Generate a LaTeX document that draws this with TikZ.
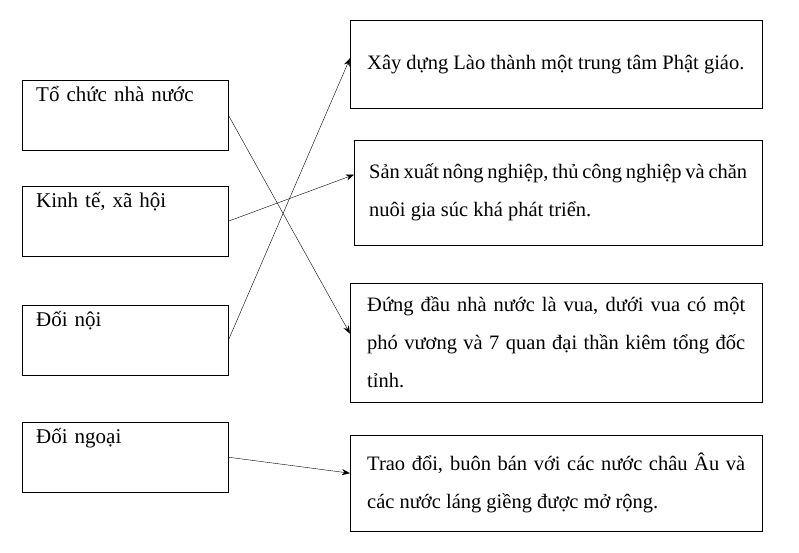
\documentclass[tikz,border=0pt]{standalone}
\usepackage{fontspec}
\setmainfont{Liberation Serif}
\usetikzlibrary{positioning,arrows.meta}

\begin{document}
\begin{tikzpicture}[x=1pt,y=-1pt,
  lbox/.style={draw,anchor=north west,minimum width=206pt,text width=178pt,inner xsep=14pt,inner ysep=5pt,text height=16pt,text depth=44pt,font=\fontsize{21}{24}\selectfont},
  rbox/.style={draw,anchor=north west,minimum width=412pt,text width=378pt,inner xsep=17pt,inner ysep=6pt,align=justify,font=\fontsize{20.5}{38}\selectfont},
  link/.style={-{Stealth[length=8pt,width=6pt]},thin}]
  \useasboundingbox (0,0) rectangle (799,553);
  \node[lbox] (l1) at (22,80) {Tổ chức nhà nước};
  \node[lbox] (l2) at (22,186) {Kinh tế, xã hội};
  \node[lbox] (l3) at (22,305) {Đối nội};
  \node[lbox] (l4) at (22,422) {Đối ngoại};

  \node[rbox,minimum height=88pt] (r1) at (350,20) {Xây dựng Lào thành một trung tâm Phật giáo.};
  \node[rbox,minimum height=105pt,minimum width=408pt,text width=378pt,inner xsep=15pt] (r2) at (354,140) {Sản xuất nông nghiệp, thủ công nghiệp và chăn nuôi gia súc khá phát triển.};
  \node[rbox,minimum height=119pt] (r3) at (350,283) {Đứng đầu nhà nước là vua, dưới vua có một phó vương và 7 quan đại thần kiêm tổng đốc tỉnh.};
  \node[rbox,minimum height=96pt] (r4) at (350,435) {Trao đổi, buôn bán với các nước châu Âu và các nước láng giềng được mở rộng.};

  \draw[link] (l1.east) -- ([yshift=9pt]r3.west);
  \draw[link] (l2.east) -- ([yshift=18pt]r2.west);
  \draw[link] (l3.east) -- ([yshift=6pt]r1.west);
  \draw[link] (l4.east) -- ([yshift=10pt]r4.west);
\end{tikzpicture}
\end{document}
